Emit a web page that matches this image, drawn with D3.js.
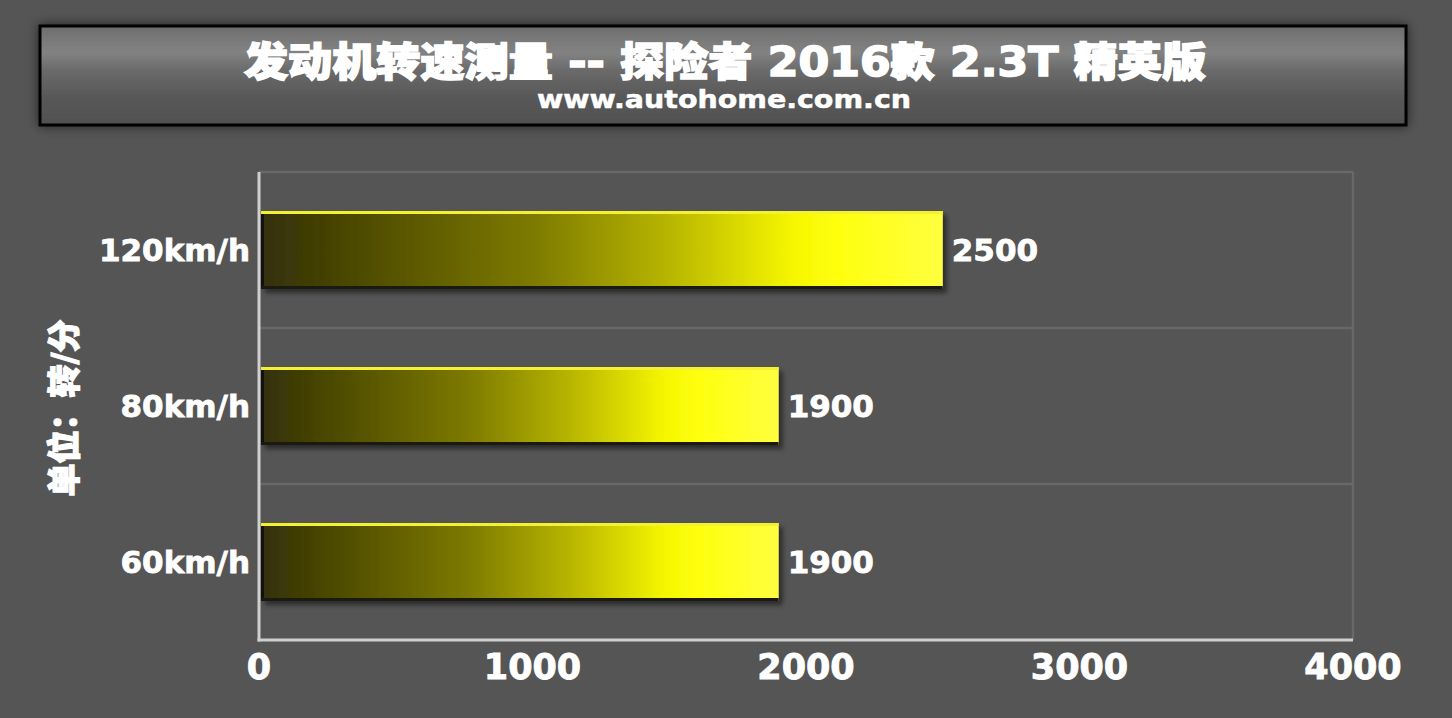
<!DOCTYPE html>
<html><head><meta charset="utf-8">
<script src="https://cdn.jsdelivr.net/npm/d3@7"></script>
<style>
html,body{margin:0;padding:0;background:#555555;}
svg{display:block;}
text{font-family:"DejaVu Sans","Noto Sans CJK SC",sans-serif;font-weight:bold;fill:#fff;}
</style></head>
<body>
<svg id="c" width="1452" height="718"></svg>
<script>
const categories = ["120km/h", "80km/h", "60km/h"];
const values = [2500, 1900, 1900];
const xTicks = [0, 1000, 2000, 3000, 4000];
const titleText = "发动机转速测量 -- 探险者 2016款 2.3T 精英版";
const subtitleText = "www.autohome.com.cn";
const unitText = "单位：转/分";

const svg = d3.select("#c");
const W = 1452, H = 718;
svg.append("rect").attr("width", W).attr("height", H).attr("fill", "#555555");

const defs = svg.append("defs");
const tg = defs.append("linearGradient").attr("id", "tg").attr("x1", 0).attr("y1", 0).attr("x2", 0).attr("y2", 1);
[[0, "#6c6c6c"], [0.1, "#767676"], [0.27, "#828282"], [0.45, "#6a6a6a"], [0.7, "#595959"], [1, "#505050"]].forEach(s => tg.append("stop").attr("offset", s[0]).attr("stop-color", s[1]));
const bg = defs.append("linearGradient").attr("id", "bg").attr("x1", 0).attr("y1", 0).attr("x2", 1).attr("y2", 0);
[[0, "#33300a"], [0.15, "#4e4c00"], [0.4, "#7d7a00"], [0.6, "#b8b600"], [0.78, "#f6f600"], [0.85, "#ffff10"], [1, "#ffff40"]].forEach(s => bg.append("stop").attr("offset", s[0]).attr("stop-color", s[1]));
const sh = defs.append("filter").attr("id", "sh").attr("x", "-5%").attr("y", "-30%").attr("width", "115%").attr("height", "170%");
sh.append("feGaussianBlur").attr("in", "SourceAlpha").attr("stdDeviation", 6);
sh.append("feComponentTransfer").append("feFuncA").attr("type", "linear").attr("slope", 0.6);
const m = sh.append("feMerge"); m.append("feMergeNode"); m.append("feMergeNode").attr("in", "SourceGraphic");
const bs = defs.append("filter").attr("id", "bs").attr("x", "-5%").attr("y", "-20%").attr("width", "115%").attr("height", "150%");
bs.append("feGaussianBlur").attr("in", "SourceAlpha").attr("stdDeviation", 2.5);
bs.append("feOffset").attr("dx", 4).attr("dy", 4);
bs.append("feComponentTransfer").append("feFuncA").attr("type", "linear").attr("slope", 0.5);
const m2 = bs.append("feMerge"); m2.append("feMergeNode"); m2.append("feMergeNode").attr("in", "SourceGraphic");

// Title box
svg.append("rect").attr("x", 40).attr("y", 26).attr("width", 1366).attr("height", 99)
  .attr("fill", "url(#tg)").attr("stroke", "#000").attr("stroke-width", 3).attr("filter", "url(#sh)");
svg.append("text").attr("x", 725).attr("y", 76).attr("text-anchor", "middle")
  .attr("textLength", 962).attr("lengthAdjust", "spacingAndGlyphs")
  .attr("stroke", "#fff").attr("stroke-width", 1.6)
  .style("font-size", "40px").style("font-weight", 900).text(titleText);
svg.append("text").attr("x", 724).attr("y", 108).attr("text-anchor", "middle")
  .attr("textLength", 374).attr("lengthAdjust", "spacingAndGlyphs")
  .attr("stroke", "#fff").attr("stroke-width", 0.5)
  .style("font-size", "24px").text(subtitleText);

// Plot
const L = 259, R = 1353, T = 172, B = 640;
const x = d3.scaleLinear().domain([0, 4000]).range([L, R]);
const y = d3.scaleBand().domain(categories).range([T, B]).paddingInner(0.5).paddingOuter(0.25);
const band = d3.scaleBand().domain(categories).range([T, B]);

const gl = categories.map(c => band(c));
svg.selectAll(".grid").data(gl).enter().append("line")
  .attr("x1", L).attr("x2", R).attr("y1", d => d).attr("y2", d => d)
  .attr("stroke", "#686868").attr("stroke-width", 2.5);
svg.append("line").attr("x1", R).attr("x2", R).attr("y1", T).attr("y2", B).attr("stroke", "#686868").attr("stroke-width", 2.5);

const g = svg.append("g");
categories.forEach((c, i) => {
  const x0 = x(0) + 2, x1 = x(values[i]), y0 = y(c), h = y.bandwidth();
  g.append("rect").attr("x", x0).attr("y", y0).attr("width", x1 - x0).attr("height", h)
    .attr("fill", "url(#bg)").attr("filter", "url(#bs)");
  g.append("rect").attr("x", x0).attr("y", y0).attr("width", x1 - x0).attr("height", 3).attr("fill", "#f4f230");
  g.append("rect").attr("x", x0).attr("y", y0 + 3).attr("width", 3).attr("height", h - 3).attr("fill", "#111");
  g.append("rect").attr("x", x0).attr("y", y0 + h - 3).attr("width", x1 - x0).attr("height", 3).attr("fill", "#1a1a10");
  svg.append("text").attr("x", x1 + 9).attr("y", y0 + h / 2 + 11)
    .attr("stroke", "#fff").attr("stroke-width", 0.8)
    .style("font-size", "31px").text(values[i]);
  svg.append("text").attr("x", 250).attr("y", y0 + h / 2 + 11).attr("text-anchor", "end")
    .attr("stroke", "#fff").attr("stroke-width", 0.8)
    .style("font-size", "31px").text(c);
});

svg.append("line").attr("x1", L).attr("x2", L).attr("y1", T).attr("y2", B + 1.5).attr("stroke", "#d0d0d0").attr("stroke-width", 3);
svg.append("line").attr("x1", L - 1.5).attr("x2", R).attr("y1", B).attr("y2", B).attr("stroke", "#d0d0d0").attr("stroke-width", 3);

svg.selectAll(".xt").data(xTicks).enter().append("text")
  .attr("x", d => x(d)).attr("y", 679).attr("text-anchor", "middle")
  .attr("stroke", "#fff").attr("stroke-width", 0.9)
  .style("font-size", "35px").text(d => d);

svg.append("text").attr("transform", "translate(76,408) rotate(-90)").attr("text-anchor", "middle")
  .attr("stroke", "#fff").attr("stroke-width", 1.2)
  .style("font-size", "33px").style("font-weight", 900).text(unitText);
</script>
</body></html>
